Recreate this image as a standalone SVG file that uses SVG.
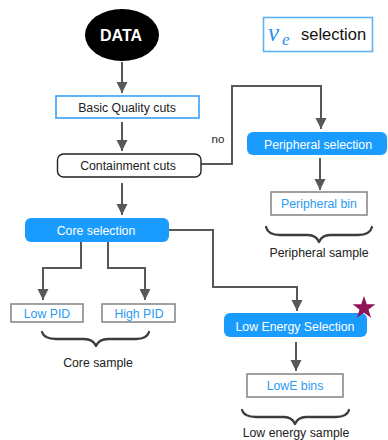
<svg xmlns="http://www.w3.org/2000/svg" width="388" height="440" viewBox="0 0 388 440">
  <defs>
    <style>
      .lbl { font-family: "Liberation Sans", Arial, sans-serif; font-size: 12.3px; text-anchor: middle; }
      .dark { fill: #222; }
      .white { fill: #ffffff; }
      .blue { fill: #2a9af2; }
      .solid { fill: #1a9cff; stroke: none; }
      .outline-blue { fill: #ffffff; stroke: #3aa0f5; stroke-width: 1.6; }
      .outline-gray { fill: #ffffff; stroke: #8a8a8a; stroke-width: 1.6; }
      .wire { fill: none; stroke: #585858; stroke-width: 2; marker-end: url(#head); }
      .brace { fill: none; stroke: #3c3c3c; stroke-width: 2.3; stroke-linecap: round; stroke-linejoin: round; }
    </style>
    <marker id="head" markerUnits="userSpaceOnUse" markerWidth="12" markerHeight="12" refX="11" refY="6" orient="auto">
      <path d="M0,0.5 L11,6 L0,11.5 Z" fill="#585858"/>
    </marker>
  </defs>

  <rect width="388" height="440" fill="#ffffff"/>

  <!-- connectors -->
  <g id="connectors">
    <path class="wire" d="M122,62 V93"/>
    <path class="wire" d="M122,122 V151"/>
    <path class="wire" d="M201,164 H232 V86 H321 V129"/>
    <path class="wire" d="M320,158 V190"/>
    <path class="wire" d="M122,183 V215"/>
    <path class="wire" d="M81,242 V268 H43 V300"/>
    <path class="wire" d="M108,242 V268 H145 V300"/>
    <path class="wire" d="M169,230 H213 V287 H297 V311"/>
    <path class="wire" d="M296,342 V371"/>
  </g>

  <!-- nodes -->
  <g id="data">
    <ellipse cx="122" cy="35" rx="37" ry="26" fill="#000000"/>
    <text x="121" y="41" style="font-family: 'Liberation Sans', Arial, sans-serif; font-size: 16px; font-weight: bold; text-anchor: middle;" fill="#ffffff">DATA</text>
  </g>

  <g id="nue-selection">
    <rect x="263.5" y="17.5" width="109" height="34" fill="#ffffff" stroke="#5fb2f5" stroke-width="1.6"/>
    <text x="268" y="41" style="font-family: 'Liberation Serif', 'DejaVu Serif', serif; font-size: 25px; font-style: italic;" fill="#2a8ef0">ν</text>
    <text x="282" y="45" style="font-family: 'Liberation Serif', 'DejaVu Serif', serif; font-size: 17px; font-style: italic;" fill="#2a8ef0">e</text>
    <text x="301" y="40" style="font-family: 'Liberation Sans', Arial, sans-serif; font-size: 16.5px;" fill="#111">selection</text>
  </g>

  <g id="basic-quality">
    <rect class="outline-blue" x="56" y="96" width="143" height="22"/>
    <text class="lbl dark" x="127" y="112">Basic Quality cuts</text>
  </g>

  <g id="containment">
    <rect x="57.5" y="154" width="143.5" height="23" rx="6" fill="#ffffff" stroke="#222" stroke-width="1.4"/>
    <text class="lbl dark" x="128" y="170">Containment cuts</text>
  </g>

  <g id="no-label">
    <text class="lbl dark" x="218" y="143" style="font-size: 11.5px;">no</text>
  </g>

  <g id="peripheral-selection">
    <rect class="solid" x="247" y="132" width="140" height="23" rx="6"/>
    <text class="lbl white" x="318" y="148.5">Peripheral selection</text>
  </g>

  <g id="peripheral-bin">
    <rect class="outline-gray" x="271" y="192" width="96" height="23"/>
    <text class="lbl blue" x="319" y="208">Peripheral bin</text>
  </g>

  <g id="peripheral-sample">
    <path class="brace" d="M266,227 Q268,235 280,235 H308 Q316,235 319,242 Q322,235 330,235 H358 Q370,235 372,227"/>
    <text class="lbl dark" x="319" y="257">Peripheral sample</text>
  </g>

  <g id="core-selection">
    <rect class="solid" x="25" y="218" width="144" height="24" rx="6"/>
    <text class="lbl white" x="96" y="234.5">Core selection</text>
  </g>

  <g id="low-pid">
    <rect class="outline-gray" x="11" y="304" width="72" height="18"/>
    <text class="lbl blue" x="47" y="317.5">Low PID</text>
  </g>

  <g id="high-pid">
    <rect class="outline-gray" x="102" y="304" width="73" height="18"/>
    <text class="lbl blue" x="139" y="317.5">High PID</text>
  </g>

  <g id="core-sample">
    <path class="brace" d="M42,332 Q44,339 56,339 H84 Q93,339 96,346 Q99,339 108,339 H136 Q147,339 149,332"/>
    <text class="lbl dark" x="98" y="367">Core sample</text>
  </g>

  <g id="low-energy-selection">
    <rect class="solid" x="224" y="313" width="143" height="24" rx="6"/>
    <text class="lbl white" x="295" y="330.5">Low Energy Selection</text>
    <polygon fill="#8c1457" points="364,296 366.8,304.2 375.4,304.3 368.5,309.4 371.1,317.7 364,312.7 356.9,317.7 359.5,309.4 352.6,304.3 361.2,304.2"/>
  </g>

  <g id="lowe-bins">
    <rect class="outline-gray" x="247" y="374" width="96" height="23"/>
    <text class="lbl blue" x="295" y="390">LowE bins</text>
  </g>

  <g id="low-energy-sample">
    <path class="brace" d="M242,410 Q244,417 256,417 H284 Q292,417 295,424 Q298,417 306,417 H336 Q347,417 349,410"/>
    <text class="lbl dark" x="296" y="436.5">Low energy sample</text>
  </g>
</svg>
